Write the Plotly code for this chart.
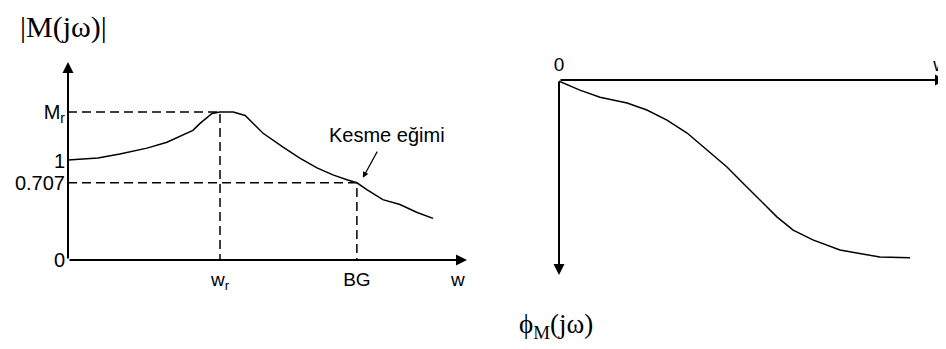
import plotly.graph_objects as go

# Sol grafik: genlik |M(jw)| (eskiz birimleri)
mag_w = [0, 0.75, 1.3, 1.98, 2.48, 2.88, 3.13, 3.31, 3.61, 3.81, 4.14, 4.44, 4.64,
         4.89, 5.39, 5.81, 6.24, 6.64, 6.99, 7.24, 7.49, 7.89, 8.32, 8.75, 9.15]
mag_m = [1.01, 1.03, 1.07, 1.13, 1.19, 1.26, 1.31, 1.38, 1.48, 1.495, 1.495, 1.46, 1.38,
         1.28, 1.14, 1.03, 0.93, 0.86, 0.81, 0.78, 0.71, 0.61, 0.56, 0.48, 0.42]

# Sag grafik: faz phi_M(jw)
faz_w = [0, 0.54, 1.06, 1.76, 2.27, 2.79, 3.31, 3.82, 4.34, 4.75, 5.19, 5.63,
         6.05, 6.56, 7.26, 8.29, 9.07]
faz_phi = [-0.03, -0.26, -0.44, -0.59, -0.77, -1.03, -1.36, -1.79, -2.23, -2.64,
           -3.08, -3.51, -3.85, -4.10, -4.36, -4.54, -4.56]

# Ozel noktalar
w_r = 3.81
w_bg = 7.24
m_r = 1.495
m_bg = 0.78

y_ticks = [0, m_bg, 1, m_r]
y_labels = ["0", "0.707", "1", "M<sub>r</sub>"]
x_ticks = [w_r, w_bg, 9.77]
x_labels = ["w<sub>r</sub>", "BG", "w"]

# sayfa govdesinin 8px kenar boslugu icin kaydirma
OFF = 8
W, H = 946 - OFF, 349 - OFF
siyah = "black"


def px(X):
    return (X - OFF) / W


def py(Y):
    return 1 - (Y - OFF) / H


fig = go.Figure()

# genlik egrisi
fig.add_trace(go.Scatter(x=mag_w, y=mag_m, mode="lines",
                         line=dict(color=siyah, width=1.5), xaxis="x", yaxis="y"))

# kesikli yardimci cizgiler
kesik = dict(color=siyah, width=1.5, dash="9px,5px")
fig.add_trace(go.Scatter(x=[0, w_r, w_r], y=[m_r, m_r, 0], mode="lines",
                         line=kesik, xaxis="x", yaxis="y"))
fig.add_trace(go.Scatter(x=[0, w_bg, w_bg], y=[m_bg, m_bg, 0], mode="lines",
                         line=kesik, xaxis="x", yaxis="y"))

# faz egrisi
fig.add_trace(go.Scatter(x=faz_w, y=faz_phi, mode="lines",
                         line=dict(color=siyah, width=1.5), xaxis="x2", yaxis="y2"))


def ok(x, y, ax, ay, xr, yr):
    # eksen oku
    return dict(x=x, y=y, ax=ax, ay=ay, xref=xr, yref=yr, axref=xr, ayref=yr,
                text="", showarrow=True, arrowhead=2, arrowsize=1.1,
                arrowwidth=2, arrowcolor=siyah)


annotations = [
    ok(0, 2.0, 0, 0, "x", "y"),
    ok(10, 0, 0, 0, "x", "y"),
    ok(10, 0, 0, 0, "x2", "y2"),
    ok(0, -5, 0, 0, "x2", "y2"),
    # Kesme egimi oku
    dict(x=7.39, y=0.83, ax=7.77, ay=1.11, xref="x", yref="y", axref="x", ayref="y",
         text="", showarrow=True, arrowhead=2, arrowsize=1, arrowwidth=1.2,
         arrowcolor=siyah),
    dict(x=8.0, y=1.26, xref="x", yref="y", text="Kesme eğimi", showarrow=False,
         xanchor="center", yanchor="middle",
         font=dict(family="Liberation Sans", size=20, color=siyah)),
    dict(x=px(63), y=py(27), xref="paper", yref="paper", text="|M(jω)|",
         showarrow=False, xanchor="center", yanchor="middle",
         font=dict(family="Liberation Serif", size=30, color=siyah)),
    dict(x=px(556), y=py(326), xref="paper", yref="paper",
         text="ϕ<sub>M</sub>(jω)", showarrow=False, xanchor="center", yanchor="middle",
         font=dict(family="Liberation Serif", size=27, color=siyah)),
]

eksen = dict(showgrid=False, zeroline=False, showline=False, ticks="", automargin=False,
             ticklabeloverflow="allow")

fig.update_layout(
    width=W, height=H,
    margin=dict(l=0, r=0, t=0, b=0, pad=0, autoexpand=False),
    paper_bgcolor="white", plot_bgcolor="white",
    showlegend=False,
    xaxis=dict(eksen, domain=[px(68), px(467)], range=[0, 10],
               tickvals=x_ticks, ticktext=x_labels, ticklabelstandoff=6,
               tickfont=dict(family="Liberation Sans", size=19, color=siyah)),
    yaxis=dict(eksen, domain=[py(260), py(62)], range=[0, 2.0],
               tickvals=y_ticks, ticktext=y_labels, ticklabelstandoff=2,
               tickfont=dict(family="Liberation Sans", size=20, color=siyah)),
    xaxis2=dict(eksen, domain=[px(559), 1.0], range=[0, 10], side="top",
                anchor="y2", tickvals=[0, 9.85], ticktext=["0", "w"],
                ticklabelstandoff=4,
                tickfont=dict(family="Liberation Sans", size=19, color=siyah)),
    yaxis2=dict(eksen, domain=[py(275), py(80)], range=[-5, 0],
                anchor="x2", showticklabels=False),
    annotations=annotations,
)

fig.write_html("out.html")
